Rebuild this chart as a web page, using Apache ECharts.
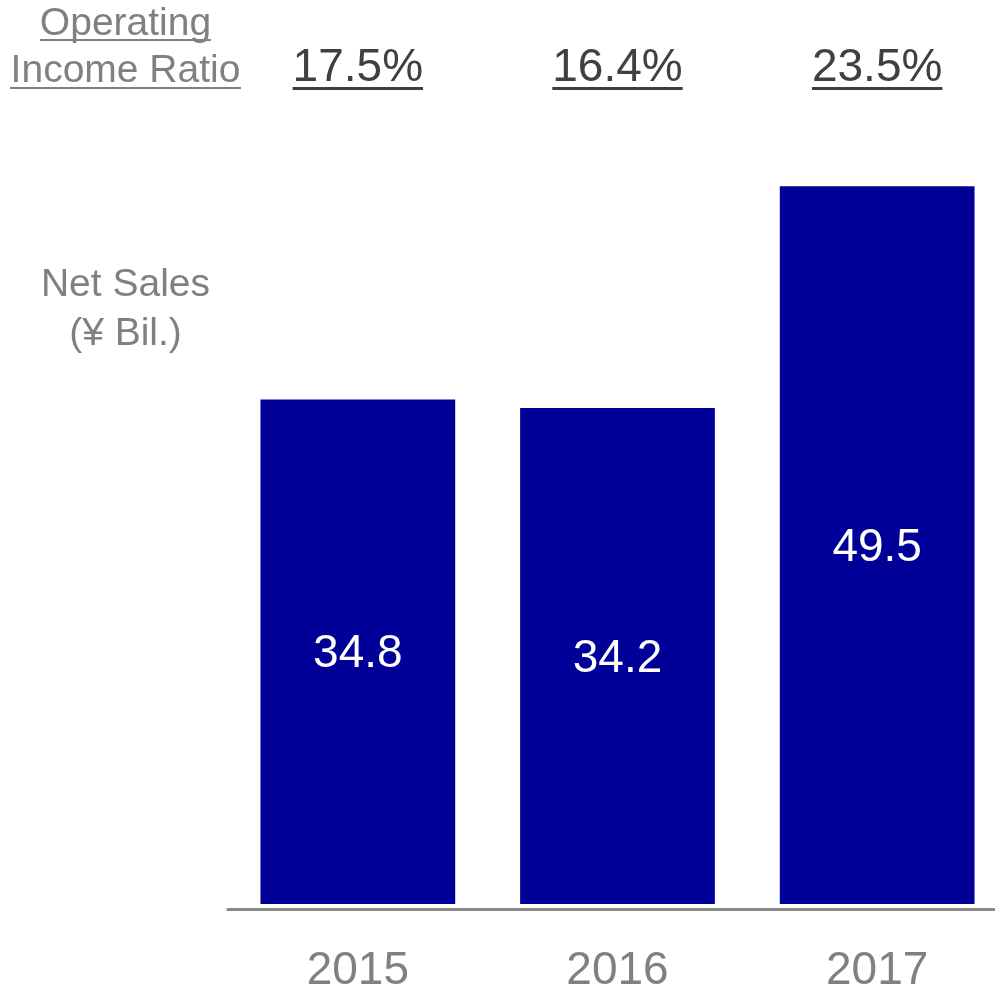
<!DOCTYPE html>
<html>
<head>
<meta charset="utf-8">
<script src="https://cdn.jsdelivr.net/npm/echarts@6/dist/echarts.min.js"></script>
<style>
  html, body { margin: 0; padding: 0; background: #ffffff; }
  #chart { width: 995px; height: 986px; }
</style>
</head>
<body>
<div id="chart"></div>
<script>
// Fiscal years, net sales (¥ billion) and operating income ratio (%)
const years = ['2015', '2016', '2017'];
const netSales = [34.8, 34.2, 49.5];
const incomeRatio = [17.5, 16.4, 23.5];

const FONT = '"Liberation Sans", Arial, sans-serif';
const GREY = '#808080';
const DARK = '#404040';

const chart = echarts.init(document.getElementById('chart'), null, { renderer: 'canvas' });

// width of a string in the given font, used for the underlines
const measureCtx = document.createElement('canvas').getContext('2d');
function textWidth(str, size) {
  measureCtx.font = size + 'px ' + FONT;
  return measureCtx.measureText(str).width;
}

const option = {
  animation: false,
  backgroundColor: '#ffffff',
  grid: {
    left: 228, top: 34, width: 779, height: 870,
    containLabel: false, outerBoundsMode: 'none'
  },
  xAxis: [{
    type: 'category',
    data: years,
    position: 'bottom',
    offset: 5,
    axisLine: { show: true, onZero: false, lineStyle: { color: '#888888', width: 3 } },
    axisTick: { show: false },
    axisLabel: { color: GREY, fontSize: 46, fontFamily: FONT, margin: 39 }
  }, {
    type: 'category',
    data: incomeRatio.map(v => v.toFixed(1) + '%'),
    position: 'top',
    axisLine: { show: false },
    axisTick: { show: false },
    axisLabel: { inside: true, color: DARK, fontSize: 46, fontFamily: FONT, margin: 11 }
  }],
  yAxis: {
    type: 'value',
    min: 0, max: 60,
    show: false,
    splitLine: { show: false }
  },
  series: [{
    type: 'bar',
    data: netSales,
    barWidth: '75%',
    itemStyle: { color: '#000099' },
    label: {
      show: true,
      position: 'inside',
      offset: [0, 3],
      color: '#ffffff',
      fontSize: 46,
      fontFamily: FONT,
      formatter: p => p.value.toFixed(1)
    }
  }]
};
chart.setOption(option);

// side captions and underlines
function caption(text, y) {
  return {
    type: 'text',
    style: { x: 125.5, y: y, text: text, fill: GREY, font: '39px ' + FONT, align: 'center', verticalAlign: 'middle' }
  };
}
const graphics = [
  caption('Operating', 24),
  caption('Income Ratio', 71),
  caption('Net Sales', 285),
  caption('(¥ Bil.)', 334),
  { type: 'rect', shape: { x: 40, y: 39, width: 171, height: 2 }, style: { fill: GREY } },
  { type: 'rect', shape: { x: 10, y: 87, width: 231, height: 2 }, style: { fill: GREY } }
];

incomeRatio.forEach((v, i) => {
  const cx = chart.convertToPixel({ xAxisIndex: 1 }, i);
  const w = textWidth(v.toFixed(1) + '%', 46);
  graphics.push({ type: 'rect', shape: { x: cx - w / 2, y: 87, width: w, height: 3 }, style: { fill: DARK } });
});

chart.setOption({ graphic: graphics });
</script>
</body>
</html>
